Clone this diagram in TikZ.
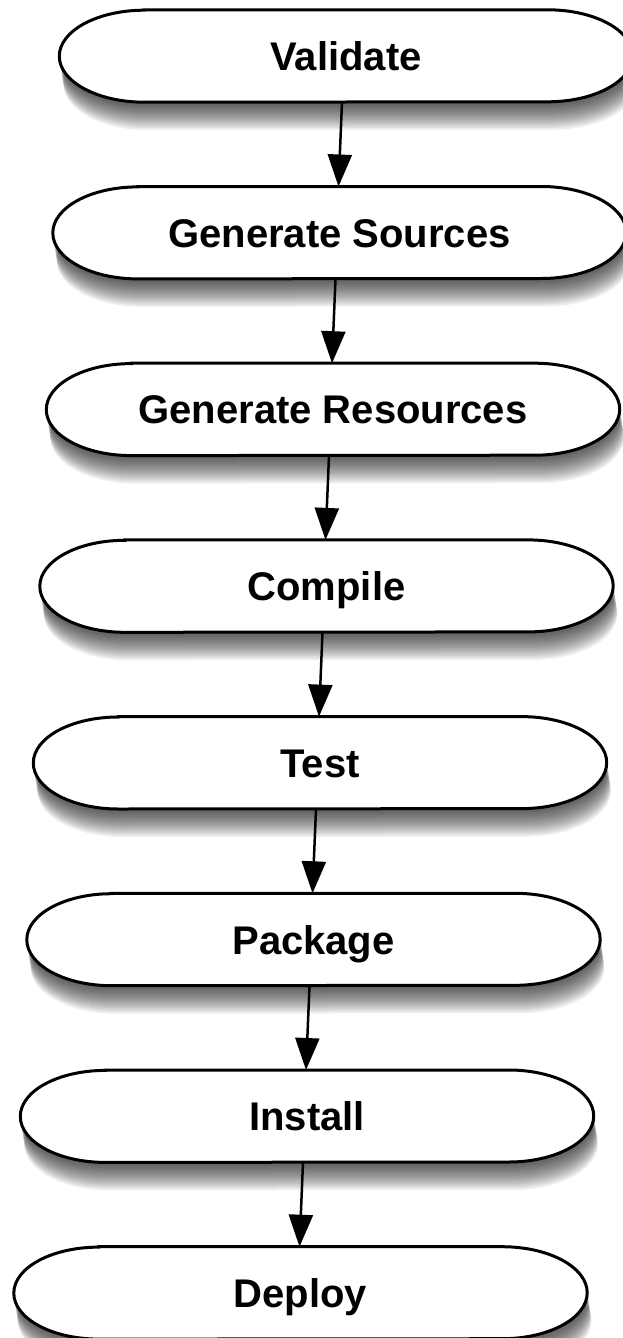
\documentclass[tikz,border=0pt]{standalone}
\usepackage{fontspec}
\setmainfont{Liberation Sans}
\usetikzlibrary{arrows.meta}
\pgfdeclarelayer{background}
\pgfsetlayers{background,main}
% pill outline round a stage node, moved by #2
\newcommand\pillpath[2]{([shift={#2},xshift=85pt]#1.north west) -- ([shift={#2},xshift=-85pt]#1.north east)
  arc[start angle=90,end angle=-90,x radius=85pt,y radius=46pt]
  -- ([shift={#2},xshift=85pt]#1.south west)
  arc[start angle=270,end angle=90,x radius=85pt,y radius=46pt] -- cycle}

\begin{document}
\begin{tikzpicture}[x=1pt,y=1pt,
  stage/.style={minimum width=573pt,minimum height=92pt,inner sep=0pt,text height=29pt,text depth=0pt,font=\bfseries\fontsize{40}{44}\selectfont},
  pill/.style={draw=black,line width=3pt,fill=white},
  haze/.style={fill=black,fill opacity=0.065},
  flow/.style={draw=black,line width=2.5pt,-{Triangle[length=32pt,width=24pt,fill=black]}}]
\useasboundingbox (0,0) rectangle (622,-1338);

% Stage nodes
\node[stage] (val) at (346,-56) {Validate};
\node[stage] (gensrc) at (339.5,-232.7) {Generate Sources};
\node[stage] (genres) at (333,-409.4) {Generate Resources};
\node[stage] (comp) at (326.5,-586.1) {Compile};
\node[stage] (test) at (320,-762.8) {Test};
\node[stage] (pack) at (313.5,-939.5) {Package};
\node[stage] (inst) at (307,-1116.2) {Install};
\node[stage] (depl) at (300.5,-1292.9) {Deploy};

% Pills with soft shadows behind the text
\begin{pgfonlayer}{background}
\foreach \s in {val,gensrc,genres,comp,test,pack,inst,depl}{
  \foreach \k in {1,...,14}
    \path[haze] \pillpath{\s}{(0.3*\k pt,-2*\k pt)};
  \path[pill] \pillpath{\s}{(0pt,0pt)};
}
\end{pgfonlayer}

% Arrows
\foreach \a/\b in {val/gensrc,gensrc/genres,genres/comp,comp/test,test/pack,pack/inst,inst/depl}
  \draw[flow] ([xshift=-4pt]\a.south) -- ([xshift=-1pt]\b.north);

\end{tikzpicture}
\end{document}
